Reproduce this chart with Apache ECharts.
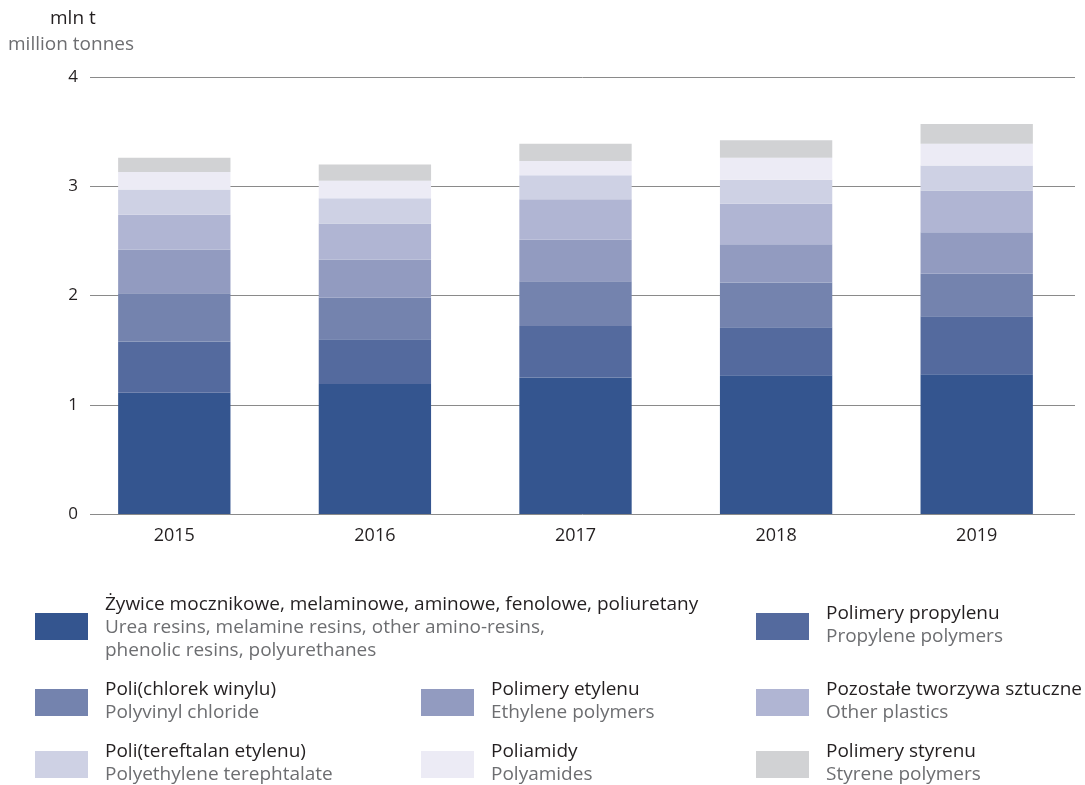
<!DOCTYPE html>
<html>
<head>
<meta charset="utf-8">
<script src="https://cdn.jsdelivr.net/npm/echarts@6/dist/echarts.min.js"></script>
<style>
  html, body { margin: 0; padding: 0; background: #ffffff; }
  #chart { width: 1085px; height: 785px; }
</style>
</head>
<body>
<div id="chart"></div>
<script>
// Plastics production in primary forms, million tonnes
const years = ['2015', '2016', '2017', '2018', '2019'];
const yTicks = [0, 1, 2, 3, 4];

const resins     = [1.11, 1.19, 1.25, 1.27, 1.28];
const propylene  = [0.47, 0.41, 0.47, 0.44, 0.53];
const pvc        = [0.44, 0.38, 0.41, 0.41, 0.39];
const ethylene   = [0.40, 0.35, 0.38, 0.35, 0.38];
const other      = [0.32, 0.33, 0.37, 0.37, 0.38];
const pet        = [0.23, 0.23, 0.22, 0.22, 0.23];
const polyamides = [0.16, 0.16, 0.13, 0.20, 0.20];
const styrene    = [0.13, 0.15, 0.16, 0.16, 0.18];

const namesPl = [
  'Żywice mocznikowe, melaminowe, aminowe, fenolowe, poliuretany',
  'Polimery propylenu',
  'Poli(chlorek winylu)',
  'Polimery etylenu',
  'Pozostałe tworzywa sztuczne',
  'Poli(tereftalan etylenu)',
  'Poliamidy',
  'Polimery styrenu'
];
const namesEn = [
  'Urea resins, melamine resins, other amino-resins,\nphenolic resins, polyurethanes',
  'Propylene polymers',
  'Polyvinyl chloride',
  'Ethylene polymers',
  'Other plastics',
  'Polyethylene terephtalate',
  'Polyamides',
  'Styrene polymers'
];
const seriesData = [resins, propylene, pvc, ethylene, other, pet, polyamides, styrene];
const colors = ['#34558f', '#546a9e', '#7483ae', '#929bc0', '#b0b5d3', '#ced1e4', '#ecebf5', '#d1d2d4'];

const FONT = '"Open Sans", "Noto Sans", sans-serif';
const DARK = '#231f20';
const GREY = '#6d6e71';

const chart = echarts.init(document.getElementById('chart'), null, { renderer: 'canvas' });

// Legend blocks: swatch + Polish name + English name
const legendSlots = [
  { i: 0, x: 35,  y: 613 },
  { i: 1, x: 756, y: 613 },
  { i: 2, x: 35,  y: 689 },
  { i: 3, x: 421, y: 689 },
  { i: 4, x: 756, y: 689 },
  { i: 5, x: 35,  y: 751 },
  { i: 6, x: 421, y: 751 },
  { i: 7, x: 756, y: 751 }
];
const graphics = [
  { type: 'text', left: 50, top: 9,
    style: { text: 'mln t', font: '19px ' + FONT, fill: DARK } },
  { type: 'text', left: 8, top: 35,
    style: { text: 'million tonnes', font: '19px ' + FONT, fill: GREY } }
];
legendSlots.forEach(s => {
  graphics.push({
    type: 'rect', shape: { x: s.x, y: s.y, width: 53, height: 27 },
    style: { fill: colors[s.i] }
  });
  const multi = namesEn[s.i].indexOf('\n') >= 0;
  graphics.push({
    type: 'text', x: s.x + 70, y: multi ? s.y - 20 : s.y - 11,
    style: {
      text: '{a|' + namesPl[s.i] + '}\n' + namesEn[s.i].split('\n').map(t => '{b|' + t + '}').join('\n'),
      rich: {
        a: { font: '19px ' + FONT, fill: DARK, lineHeight: 23 },
        b: { font: '19px ' + FONT, fill: GREY, lineHeight: 23 }
      }
    }
  });
});

const option = {
  animation: false,
  backgroundColor: '#ffffff',
  grid: [
    { left: 90, right: 10, top: 77, bottom: 271 },
    { left: 74, right: 8, top: 77, bottom: 271 }
  ],
  xAxis: [
    { type: 'category', gridIndex: 0, data: years, show: false },
    {
      type: 'category', gridIndex: 1, data: years,
      axisLine: { show: false }, axisTick: { show: false },
      axisLabel: { color: DARK, fontSize: 18, fontFamily: FONT, margin: 13 }
    }
  ],
  yAxis: [
    {
      type: 'value', gridIndex: 0, min: yTicks[0], max: yTicks[yTicks.length - 1], interval: 1,
      axisLine: { show: false }, axisTick: { show: false },
      axisLabel: { color: DARK, fontSize: 17, fontFamily: FONT, margin: 12 },
      splitLine: { lineStyle: { color: '#8a8a8a', width: 1 } }
    },
    {
      type: 'value', gridIndex: 1, min: yTicks[0], max: yTicks[yTicks.length - 1], interval: 1,
      show: false, splitLine: { show: false }
    }
  ],
  series: seriesData.map((d, k) => ({
    name: namesPl[k],
    type: 'bar',
    stack: 'total',
    xAxisIndex: 1,
    yAxisIndex: 1,
    barWidth: '56%',
    data: d,
    itemStyle: { color: colors[k] },
    z: 3
  })),
  graphic: graphics
};
chart.setOption(option);
</script>
</body>
</html>
